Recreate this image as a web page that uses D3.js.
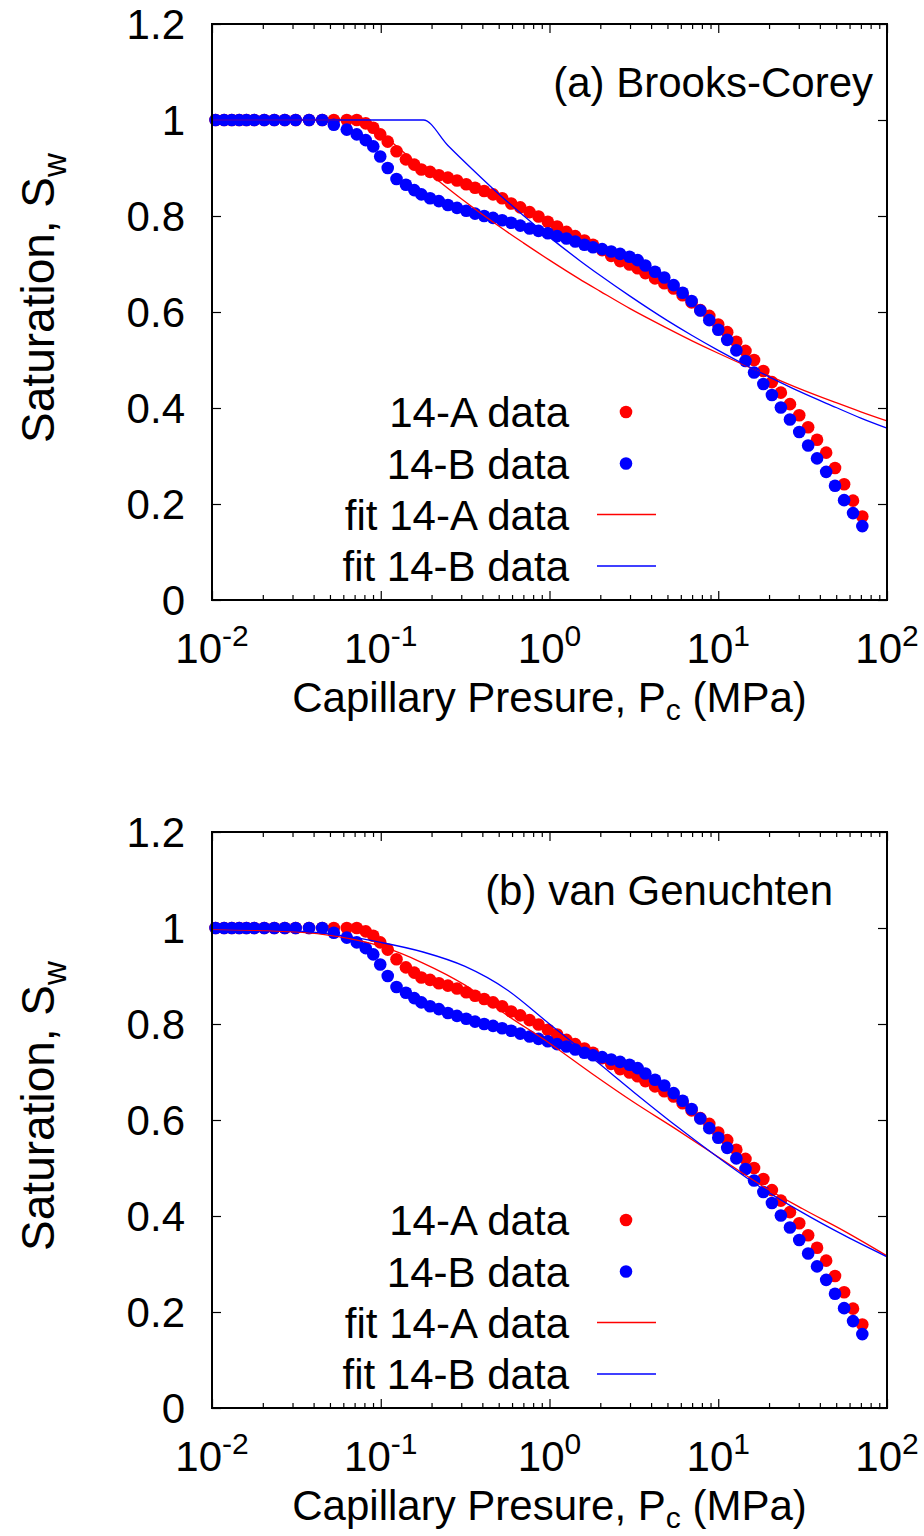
<!DOCTYPE html>
<html>
<head>
<meta charset="utf-8">
<script src="https://d3js.org/d3.v7.min.js"></script>
<style>
  body { margin: 0; background: #fff; }
  text { font-family: "Liberation Sans", Arial, Helvetica, sans-serif; fill: #000; }
</style>
</head>
<body>
<svg width="924" height="1536"></svg>
<script>
// capillary pressure (MPa), shared by both samples
var pressure = [0.0105, 0.0118, 0.0131, 0.0145, 0.0160, 0.0178, 0.0204, 0.0234, 0.0270, 0.0313,
  0.0376, 0.0450, 0.0527, 0.0629, 0.0721, 0.0815, 0.0903, 0.0993, 0.110, 0.124,
  0.141, 0.158, 0.174, 0.196, 0.221, 0.250, 0.283, 0.321, 0.362, 0.410,
  0.463, 0.524, 0.593, 0.671, 0.762, 0.861, 0.977, 1.11, 1.26, 1.42,
  1.61, 1.81, 2.05, 2.32, 2.62, 2.98, 3.33, 3.70, 4.22, 4.79,
  5.44, 6.15, 6.95, 7.83, 8.85, 10.0, 11.3, 12.8, 14.5, 16.3,
  18.5, 20.8, 23.5, 26.6, 30.2, 34.1, 38.5, 43.6, 49.2, 55.7,
  62.9, 71.4];

var sat14A = [1, 1, 1, 1, 1, 1, 1, 1, 1, 1,
  1, 1, 1, 1, 1, 0.993, 0.984, 0.970, 0.955, 0.935,
  0.918, 0.907, 0.897, 0.892, 0.885, 0.880, 0.874, 0.866, 0.859, 0.852,
  0.845, 0.837, 0.826, 0.818, 0.808, 0.799, 0.788, 0.778, 0.767, 0.758,
  0.749, 0.740, 0.729, 0.717, 0.706, 0.699, 0.691, 0.681, 0.670, 0.660,
  0.649, 0.635, 0.620, 0.604, 0.592, 0.574, 0.558, 0.538, 0.519, 0.500,
  0.477, 0.454, 0.432, 0.408, 0.385, 0.360, 0.334, 0.307, 0.275, 0.241,
  0.207, 0.174];

var sat14B = [1, 1, 1, 1, 1, 1, 1, 1, 1, 1,
  1, 1, 0.990, 0.980, 0.970, 0.958, 0.945, 0.924, 0.900, 0.877,
  0.865, 0.854, 0.845, 0.837, 0.831, 0.823, 0.817, 0.811, 0.805, 0.800,
  0.796, 0.791, 0.786, 0.780, 0.774, 0.769, 0.764, 0.758, 0.753, 0.747,
  0.740, 0.735, 0.731, 0.726, 0.721, 0.715, 0.708, 0.697, 0.684, 0.672,
  0.656, 0.640, 0.623, 0.603, 0.583, 0.563, 0.542, 0.520, 0.498, 0.474,
  0.450, 0.427, 0.401, 0.376, 0.350, 0.322, 0.295, 0.267, 0.238, 0.208,
  0.181, 0.154];

// Brooks-Corey fit curves
var bcPressA = [0.01, 0.083, 0.1, 0.15, 0.2, 0.3, 0.5, 0.7, 1, 1.5, 2, 3, 5, 7, 10, 15, 20, 30, 50, 70, 100];
var bcFitA = [1, 1, 0.974, 0.921, 0.885, 0.836, 0.779, 0.744, 0.708, 0.669, 0.643, 0.607, 0.566, 0.540, 0.514, 0.486, 0.467, 0.441, 0.411, 0.392, 0.373];
var bcPressB = [0.01, 0.179, 0.25, 0.35, 0.5, 0.7, 1, 1.5, 2, 3, 5, 7, 10, 15, 20, 30, 50, 70, 100];
var bcFitB = [1, 1, 0.947, 0.897, 0.846, 0.801, 0.756, 0.708, 0.676, 0.633, 0.582, 0.551, 0.520, 0.487, 0.465, 0.435, 0.401, 0.379, 0.358];

// van Genuchten fit curves
var vgPress = [0.01, 0.0316, 0.0562, 0.1, 0.178, 0.316, 0.562, 1, 1.78, 3.16, 5.62, 10, 17.8, 31.6, 56.2, 100];
var vgFitA = [0.997, 0.992, 0.982, 0.962, 0.927, 0.881, 0.818, 0.760, 0.697, 0.637, 0.581, 0.523, 0.465, 0.415, 0.368, 0.317];
var vgFitB = [0.999, 0.994, 0.985, 0.970, 0.950, 0.920, 0.871, 0.800, 0.730, 0.658, 0.588, 0.522, 0.460, 0.407, 0.359, 0.315];

var yTicks = [0, 0.2, 0.4, 0.6, 0.8, 1, 1.2];
var xTickExp = [-2, -1, 0, 1, 2];
var legendLabels = ["14-A data", "14-B data", "fit 14-A data", "fit 14-B data"];

var svg = d3.select("svg"),
    margin = {left: 212, right: 37},
    width = +svg.attr("width") - margin.left - margin.right,
    height = 576,
    fs = 42;

var x = d3.scaleLog().domain([0.01, 100]).range([0, width]);
var y = d3.scaleLinear().domain([0, 1.2]).range([height, 0]);

var majorX = xTickExp.map(function(e) { return Math.pow(10, e); });
var minorX = [];
for (var e = -2; e < 2; e++) {
  for (var k = 2; k <= 9; k++) minorX.push(k * Math.pow(10, e));
}

var line = d3.line()
    .x(function(d) { return x(d[0]); })
    .y(function(d) { return y(d[1]); })
    .curve(d3.curveMonotoneX);

function drawPanel(top, title, titleX, fitA, fitB) {
  var g = svg.append("g").attr("transform", "translate(" + margin.left + "," + top + ")");

  // ticks (inward, mirrored on all sides)
  function styleAxis(sel) {
    sel.select(".domain").remove();
    sel.selectAll(".tick line").attr("stroke", "#000").attr("stroke-width", 1.2);
    sel.selectAll(".tick text").remove();
  }
  g.append("g").call(d3.axisLeft(y).tickValues(yTicks).tickSize(-9)).call(styleAxis);
  g.append("g").attr("transform", "translate(" + width + ",0)")
    .call(d3.axisRight(y).tickValues(yTicks).tickSize(-9)).call(styleAxis);
  g.append("g").attr("transform", "translate(0," + height + ")")
    .call(d3.axisBottom(x).tickValues(majorX).tickSize(-9)).call(styleAxis);
  g.append("g").attr("transform", "translate(0," + height + ")")
    .call(d3.axisBottom(x).tickValues(minorX).tickSize(-5)).call(styleAxis);
  g.append("g").call(d3.axisTop(x).tickValues(majorX).tickSize(-9)).call(styleAxis);
  g.append("g").call(d3.axisTop(x).tickValues(minorX).tickSize(-5)).call(styleAxis);

  // tick labels
  g.selectAll(".ylab").data(yTicks).enter().append("text")
    .attr("x", -27).attr("y", function(d) { return y(d); })
    .attr("dy", "0.36em").attr("text-anchor", "end")
    .style("font-size", fs + "px")
    .text(function(d) { return d3.format("~g")(d); });

  var xl = g.selectAll(".xlab").data(xTickExp).enter().append("text")
    .attr("x", function(d) { return x(Math.pow(10, d)); })
    .attr("y", height + 63).attr("text-anchor", "middle")
    .style("font-size", fs + "px");
  xl.append("tspan").text("10");
  xl.append("tspan").attr("dy", -17).style("font-size", "30px").text(function(d) { return d; });

  // axis titles
  var xt = g.append("text").attr("x", width / 2).attr("y", height + 112)
    .attr("text-anchor", "middle").style("font-size", fs + "px");
  xt.append("tspan").text("Capillary Presure, P");
  xt.append("tspan").attr("dy", 8).style("font-size", "30px").text("c");
  xt.append("tspan").attr("dy", -8).text(" (MPa)");

  var yt = g.append("text").attr("transform", "translate(-158," + (height / 2 - 14) + ") rotate(-90)")
    .attr("text-anchor", "middle").style("font-size", "46px");
  yt.append("tspan").text("Saturation, S");
  yt.append("tspan").attr("dy", 12).style("font-size", "33px").text("w");

  // data points
  g.append("g").selectAll("circle").data(d3.zip(pressure, sat14A)).enter().append("circle")
    .attr("cx", function(d) { return x(d[0]); }).attr("cy", function(d) { return y(d[1]); })
    .attr("r", 6.3).attr("fill", "#ff0000");
  g.append("g").selectAll("circle").data(d3.zip(pressure, sat14B)).enter().append("circle")
    .attr("cx", function(d) { return x(d[0]); }).attr("cy", function(d) { return y(d[1]); })
    .attr("r", 6.3).attr("fill", "#0000ff");

  // fits
  g.append("path").datum(fitA).attr("d", line)
    .attr("fill", "none").attr("stroke", "#ff0000").attr("stroke-width", 1.3);
  g.append("path").datum(fitB).attr("d", line)
    .attr("fill", "none").attr("stroke", "#0000ff").attr("stroke-width", 1.3);

  // frame
  g.append("rect").attr("width", width).attr("height", height)
    .attr("fill", "none").attr("stroke", "#000").attr("stroke-width", 2);

  // panel title
  g.append("text").attr("x", titleX).attr("y", 73).attr("text-anchor", "end")
    .style("font-size", fs + "px").text(title);

  // legend
  var rowY = [388, 439.5, 490.5, 542];
  var colors = ["#ff0000", "#0000ff", "#ff0000", "#0000ff"];
  var leg = g.append("g");
  leg.selectAll("text").data(legendLabels).enter().append("text")
    .attr("x", 357).attr("y", function(d, i) { return rowY[i]; })
    .attr("dy", "0.36em").attr("text-anchor", "end")
    .style("font-size", fs + "px").text(function(d) { return d; });
  leg.selectAll("circle").data([0, 1]).enter().append("circle")
    .attr("cx", 414).attr("cy", function(i) { return rowY[i]; })
    .attr("r", 6.3).attr("fill", function(i) { return colors[i]; });
  leg.selectAll("line").data([2, 3]).enter().append("line")
    .attr("x1", 385).attr("x2", 444)
    .attr("y1", function(i) { return rowY[i]; }).attr("y2", function(i) { return rowY[i]; })
    .attr("stroke", function(i) { return colors[i]; }).attr("stroke-width", 1.3);
}

drawPanel(24, "(a) Brooks-Corey", 661, d3.zip(bcPressA, bcFitA), d3.zip(bcPressB, bcFitB));
drawPanel(832, "(b) van Genuchten", 621, d3.zip(vgPress, vgFitA), d3.zip(vgPress, vgFitB));
</script>
</body>
</html>
